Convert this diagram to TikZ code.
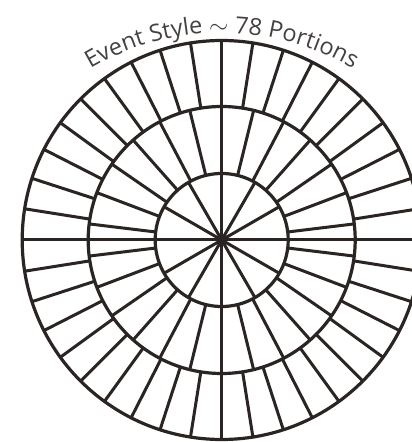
\documentclass[tikz,border=0pt]{standalone}
\usepackage{fontspec}
\setmainfont{Open Sans}
\usetikzlibrary{decorations.text}
\definecolor{ink}{HTML}{2A2523}
\definecolor{txt}{HTML}{454141}
\begin{document}
\begin{tikzpicture}[x=1pt,y=1pt,
  ring/.style={draw=ink, line width=3.2pt},
  spoke/.style={draw=ink, line width=3pt}]
\useasboundingbox (0,0) rectangle (412,442);
\clip (0,0) rectangle (412,442);
\fill[white] (0,0) rectangle (412,442);
\coordinate (C) at (221.7,202);
\begin{scope}[shift={(C)}]
  \foreach \a in {0,30,...,330} \draw[spoke] (0,0) -- (\a:66.5);
  \foreach \k in {0,...,25} \draw[spoke] ({90+\k*360/26}:66.5) -- ({90+\k*360/26}:133.5);
  \draw[spoke] (0:66.5) -- (0:133.5) (180:66.5) -- (180:133.5);
  \foreach \a in {0,9,...,351} \draw[spoke] (\a:133.5) -- (\a:199.5);
  \draw[ring] (0,0) circle[radius=66.5] (0,0) circle[radius=133.5] (0,0) circle[radius=199.5];
  \fill[ink] (0,0) circle[radius=5];
\end{scope}
\path[decorate, decoration={text along path, text align=center,
  text format delimiters={|}{|},
  text={|\color{txt}\fontsize{23.5}{23.5}\selectfont|Event Style {$\sim$} 78 Portions}}]
  (221.7,150) ++(130:259) arc[start angle=130, end angle=50, radius=259];
\end{tikzpicture}
\end{document}
